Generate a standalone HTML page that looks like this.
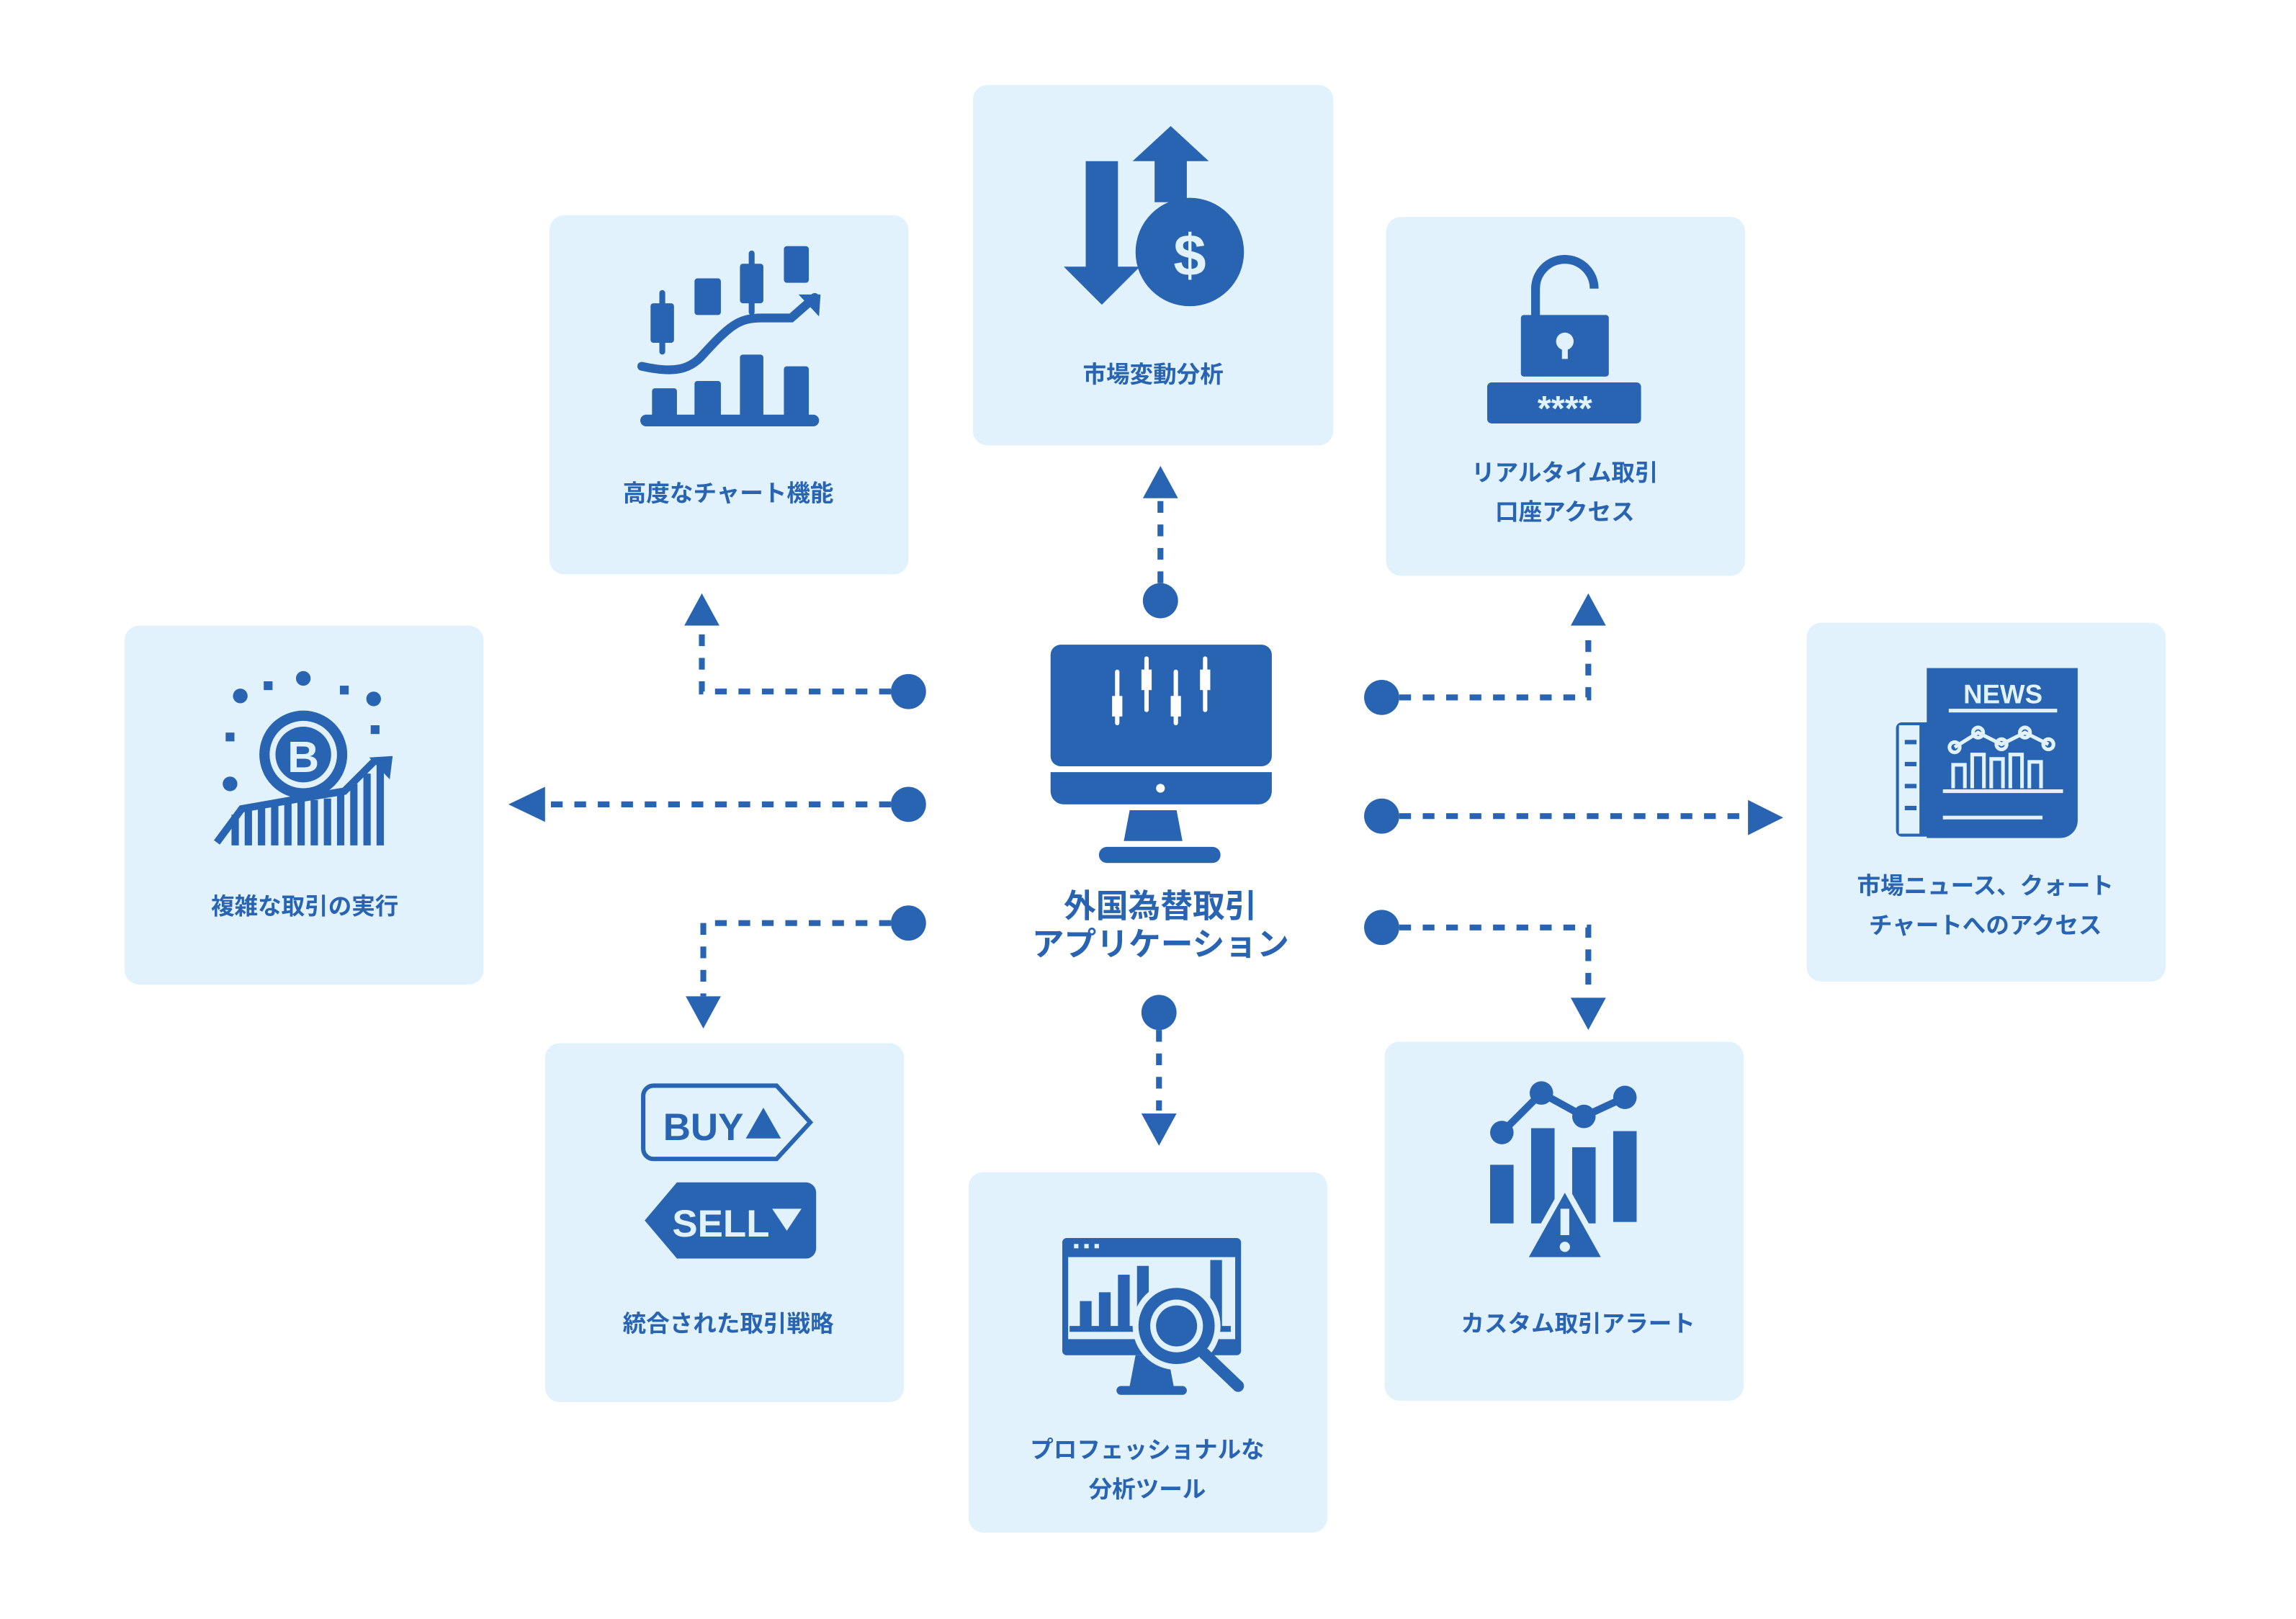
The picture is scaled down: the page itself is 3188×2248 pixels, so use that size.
<!DOCTYPE html>
<html><head><meta charset="utf-8"><style>
html,body{margin:0;padding:0;background:#fff}
svg{display:block}
text{font-family:"Liberation Sans","Noto Sans CJK JP",sans-serif;font-weight:bold;fill:#2864b2}
</style></head><body>
<svg width="3188" height="2248" viewBox="0 0 1567 1105" preserveAspectRatio="none" xmlns="http://www.w3.org/2000/svg">
<g fill="#e1f2fd">
<rect x="664" y="58" width="246" height="246" rx="10"/>
<rect x="375" y="147" width="245" height="245" rx="10"/>
<rect x="946" y="148" width="245" height="245" rx="10"/>
<rect x="85" y="427" width="245" height="245" rx="10"/>
<rect x="1233" y="425" width="245" height="245" rx="10"/>
<rect x="372" y="712" width="245" height="245" rx="10"/>
<rect x="661" y="800" width="245" height="246" rx="10"/>
<rect x="945" y="711" width="245" height="245" rx="10"/>
</g>
<g fill="#2864b2">
<g stroke="#2864b2" stroke-width="4" stroke-dasharray="8 8" fill="none">
<path d="M792 398 V342"/>
<path d="M608 472 H479 V430"/>
<path d="M608 549 H372"/>
<path d="M608 630 H480 V680"/>
<path d="M791 703 V758"/>
<path d="M955 476 H1084 V430"/>
<path d="M955 557 H1193"/>
<path d="M955 633 H1084 V680"/>
</g>
<circle cx="792" cy="410" r="12"/>
<circle cx="620" cy="472" r="12"/>
<circle cx="620" cy="549" r="12"/>
<circle cx="620" cy="630" r="12"/>
<circle cx="791" cy="691" r="12"/>
<circle cx="943" cy="476" r="12"/>
<circle cx="943" cy="557" r="12"/>
<circle cx="943" cy="633" r="12"/>
<polygon points="792,318 780,340 804,340"/>
<polygon points="479,405 467,427 491,427"/>
<polygon points="347,549 372,537 372,561"/>
<polygon points="480,702 468,680 492,680"/>
<polygon points="791,782 779,760 803,760"/>
<polygon points="1084,405 1072,427 1096,427"/>
<polygon points="1217,558 1193,546 1193,570"/>
<polygon points="1084,703 1072,681 1096,681"/>
<rect x="717" y="440" width="151" height="83" rx="7"/>
<path d="M717 527 H868 V540 a9 9 0 0 1 -9 9 H726 a9 9 0 0 1 -9 -9Z"/>
<polygon points="771,553 803,553 807,574 767,574"/>
<rect x="750" y="578" width="83" height="11" rx="5.5"/>
</g>
<g fill="#fff">
<circle cx="792" cy="538" r="3"/>
<rect x="761" y="457" width="3" height="38" rx="1.5"/><rect x="759" y="475" width="7" height="14"/>
<rect x="781" y="448" width="3" height="38" rx="1.5"/><rect x="779" y="457" width="7" height="14"/>
<rect x="801" y="457" width="3" height="38" rx="1.5"/><rect x="799" y="475" width="7" height="14"/>
<rect x="821" y="448" width="3" height="38" rx="1.5"/><rect x="819" y="457" width="7" height="14"/>
</g>
<text x="792" y="626" font-size="22" text-anchor="middle">外国為替取引</text>
<text x="792" y="652" font-size="22" text-anchor="middle">アプリケーション</text>

<g font-size="16" text-anchor="middle">
<text x="787" y="261">市場変動分析</text>
<text x="497" y="342">高度なチャート機能</text>
<text x="1068" y="328">リアルタイム取引</text>
<text x="1068" y="355">口座アクセス</text>
<text x="208" y="624">複雑な取引の実行</text>
<text x="1355" y="610">市場ニュース、クォート</text>
<text x="1355" y="637">チャートへのアクセス</text>
<text x="497" y="909">統合された取引戦略</text>
<text x="783" y="995">プロフェッショナルな</text>
<text x="783" y="1022">分析ツール</text>
<text x="1077" y="909">カスタム取引アラート</text>
</g>

<g fill="#2864b2">
<rect x="741" y="110" width="22" height="75"/>
<polygon points="726,182 778,182 752,208"/>
<polygon points="773,110 825,110 799,86"/>
<rect x="788" y="108" width="22" height="30"/>
<circle cx="812" cy="172" r="37"/>
<text x="812" y="188" font-size="40" text-anchor="middle" style="fill:#e1f2fd">$</text>
<rect x="444" y="207" width="16" height="27" rx="2"/><rect x="450" y="198" width="4" height="44" rx="2"/>
<rect x="474" y="190" width="18" height="25" rx="2"/>
<rect x="505" y="180" width="16" height="27" rx="2"/><rect x="511" y="171" width="4" height="44" rx="2"/>
<rect x="535" y="168" width="17" height="25" rx="2"/>
<path d="M438 250 C460 255 470 252 478 244 C498 222 504 217 520 217 L540 217 L556 203" stroke="#2864b2" stroke-width="6" fill="none" stroke-linecap="round"/>
<polygon points="545,201 560,201 559,216"/>
<rect x="445" y="265" width="17" height="20" rx="2"/>
<rect x="474" y="260" width="18" height="25" rx="2"/>
<rect x="505" y="242" width="16" height="43" rx="2"/>
<rect x="535" y="250" width="17" height="35" rx="2"/>
<rect x="437" y="283" width="122" height="8" rx="4"/>
<path d="M1048 216 V197 a20 20 0 0 1 40 0" stroke="#2864b2" stroke-width="6" fill="none"/>
<rect x="1038" y="215" width="60" height="42" rx="2"/>
<rect x="1015" y="261" width="105" height="28" rx="3"/>
<circle cx="1068" cy="233" r="6" fill="#e1f2fd"/><rect x="1066" y="235" width="4" height="10" fill="#e1f2fd"/>
<text x="1068" y="287" font-size="24" text-anchor="middle" style="fill:#e1f2fd">****</text>
<circle cx="207" cy="515" r="30"/>
<circle cx="207" cy="515" r="23" fill="#e1f2fd"/>
<circle cx="207" cy="515" r="19"/>
<text x="207" y="527" font-size="30" text-anchor="middle" style="fill:#e1f2fd">B</text>
<circle cx="164" cy="475" r="5"/><circle cx="207" cy="463" r="5"/><circle cx="255" cy="477" r="5"/><circle cx="157" cy="535" r="5"/>
<rect x="180" y="465" width="6" height="6"/><rect x="232" y="468" width="6" height="6"/><rect x="154" y="500" width="6" height="6"/><rect x="253" y="495" width="6" height="6"/>
<path d="M148 575 L165 552 L205 545 L235 540 L255 520" stroke="#2864b2" stroke-width="5" fill="none"/>
<polygon points="252,517 268,516 266,532"/>
<g><rect x="158" y="556" width="5" height="21"/><rect x="167" y="552" width="5" height="25"/><rect x="176" y="550" width="5" height="27"/><rect x="185" y="549" width="5" height="28"/><rect x="194" y="548" width="5" height="29"/><rect x="203" y="547" width="5" height="30"/><rect x="212" y="546" width="5" height="31"/><rect x="221" y="545" width="5" height="32"/><rect x="230" y="540" width="5" height="37"/><rect x="239" y="535" width="5" height="42"/><rect x="248" y="528" width="5" height="49"/><rect x="257" y="522" width="5" height="55"/></g>
<rect x="1294" y="493" width="30" height="78" rx="4"/>
<rect x="1296" y="495" width="14" height="74" fill="#e1f2fd"/>
<rect x="1300" y="505" width="8" height="3"/><rect x="1300" y="520" width="8" height="3"/><rect x="1300" y="535" width="8" height="3"/><rect x="1300" y="550" width="8" height="3"/>
<path d="M1315 456 H1418 V560 a12 12 0 0 1 -12 12 H1315Z"/>
<text x="1367" y="480" font-size="18" text-anchor="middle" style="fill:#e1f2fd">NEWS</text>
<g fill="none" stroke="#e1f2fd" stroke-width="2.5">
<path d="M1330 485 H1404"/><path d="M1326 540 H1408"/><path d="M1326 558 H1394"/>
<path d="M1334 510 L1350 500 L1366 508 L1382 500 L1398 508"/>
<circle cx="1334" cy="510" r="3.5"/><circle cx="1350" cy="500" r="3.5"/><circle cx="1366" cy="508" r="3.5"/><circle cx="1382" cy="500" r="3.5"/><circle cx="1398" cy="508" r="3.5"/>
<path d="M1333 538 V522 H1341 V538 M1346 538 V515 H1354 V538 M1359 538 V518 H1367 V538 M1372 538 V515 H1380 V538 M1385 538 V520 H1393 V538"/>
</g>
<path d="M446 741 H530 L553 766 L530 791 H446 a7 7 0 0 1 -7 -7 V748 a7 7 0 0 1 7 -7Z" fill="none" stroke="#2864b2" stroke-width="3"/>
<text x="480" y="778" font-size="26" text-anchor="middle">BUY</text>
<polygon points="521,756 509,777 533,777"/>
<path d="M462 807 H550 a7 7 0 0 1 7 7 V852 a7 7 0 0 1 -7 7 H462 L440 833Z"/>
<text x="492" y="844" font-size="26" text-anchor="middle" style="fill:#e1f2fd">SELL</text>
<polygon points="527,825 547,825 537,840" fill="#e1f2fd"/>
<rect x="725" y="845" width="122" height="80" rx="3"/>
<rect x="729" y="858" width="114" height="56" fill="#e1f2fd"/>
<rect x="733" y="849" width="3" height="3" fill="#e1f2fd"/><rect x="740" y="849" width="3" height="3" fill="#e1f2fd"/><rect x="747" y="849" width="3" height="3" fill="#e1f2fd"/>
<rect x="737" y="888" width="8" height="20"/><rect x="750" y="882" width="8" height="26"/><rect x="763" y="870" width="8" height="38"/><rect x="776" y="864" width="8" height="44"/><rect x="826" y="860" width="8" height="48"/>
<rect x="730" y="905" width="110" height="4"/>
<polygon points="775,925 797,925 801,946 771,946"/>
<rect x="762" y="946" width="48" height="6" rx="3"/>
<circle cx="803" cy="905" r="30" fill="#e1f2fd"/>
<circle cx="803" cy="905" r="26"/>
<circle cx="803" cy="905" r="18" fill="#e1f2fd"/>
<circle cx="803" cy="905" r="14"/>
<path d="M822 924 L845 946" stroke="#2864b2" stroke-width="8" stroke-linecap="round"/>
<rect x="1017" y="795" width="16" height="40"/>
<rect x="1045" y="770" width="16" height="65"/>
<rect x="1073" y="783" width="16" height="52"/>
<rect x="1101" y="772" width="16" height="62"/>
<path d="M1025 773 L1052 746 L1081 762 L1109 749" stroke="#2864b2" stroke-width="5" fill="none"/>
<circle cx="1025" cy="773" r="8"/><circle cx="1052" cy="746" r="8"/><circle cx="1081" cy="762" r="8"/><circle cx="1109" cy="749" r="8"/>
<polygon points="1068,810 1040,860 1096,860" stroke="#e1f2fd" stroke-width="4"/>
<rect x="1065" y="825" width="6" height="18" fill="#e1f2fd"/><circle cx="1068" cy="851" r="3.5" fill="#e1f2fd"/>
</g>
</svg>
</body></html>
